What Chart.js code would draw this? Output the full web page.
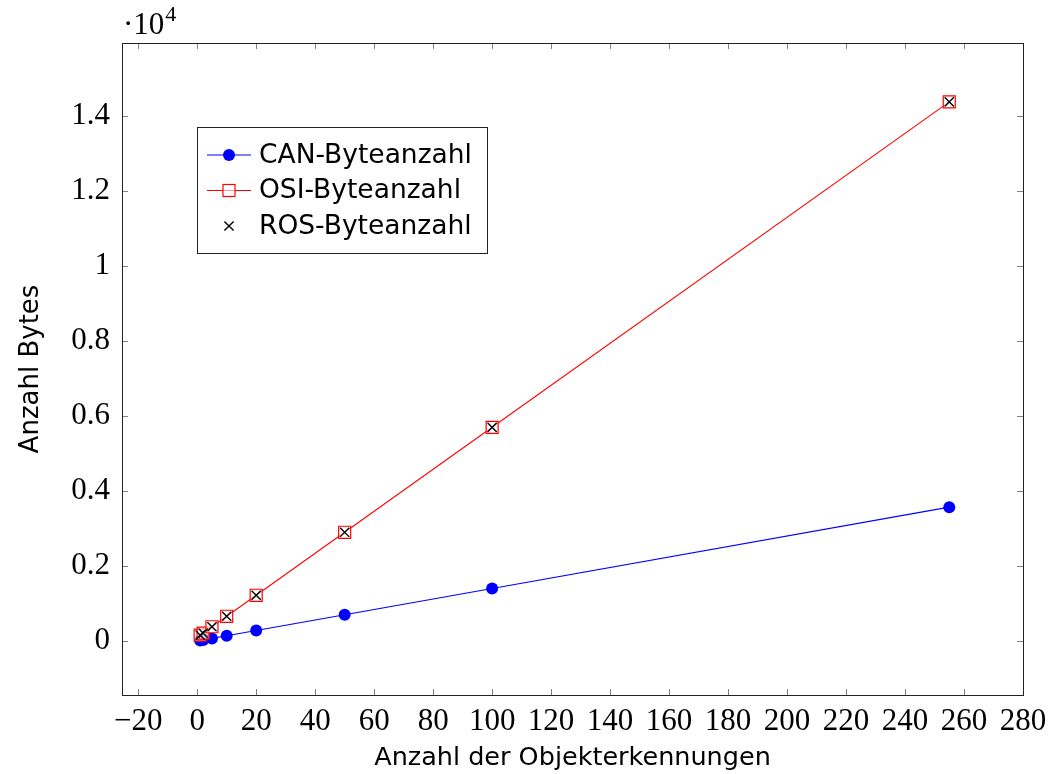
<!DOCTYPE html>
<html>
<head>
<meta charset="utf-8">
<script src="https://cdn.jsdelivr.net/npm/chart.js@4.4.1/dist/chart.umd.min.js"></script>
<style>
  html, body { margin: 0; padding: 0; background: #fff; }
  #wrap { width: 1050px; height: 774px; }
</style>
</head>
<body>
<div id="wrap"><canvas id="myChart" width="1050" height="774"></canvas></div>
<script>
// Werte
const anzahlObjekte = [1, 2, 5, 10, 20, 50, 100, 255];
const canBytes = [14, 28, 70, 140, 280, 700, 1400, 3570];
const osiBytes = [156, 212, 380, 660, 1220, 2900, 5700, 14380];
const rosBytes = [156, 212, 380, 660, 1220, 2900, 5700, 14380];
const xTicks = [-20, 0, 20, 40, 60, 80, 100, 120, 140, 160, 180, 200, 220, 240, 260, 280];
const yTicks = [0, 2000, 4000, 6000, 8000, 10000, 12000, 14000];

const serif = '"Liberation Serif", serif';
const sans = '"DejaVu Sans", sans-serif';

const toPoints = ys => anzahlObjekte.map((x, i) => ({ x: x, y: ys[i] }));

// Tick-Striche nach innen, auf allen vier Seiten (wie pgfplots)
const innerTicks = {
    id: 'innerTicks',
    afterDatasetsDraw(chart) {
        const { ctx, chartArea: a, scales } = chart;
        const len = 6;
        ctx.save();
        ctx.strokeStyle = '#808080';
        ctx.lineWidth = 1;
        ctx.beginPath();
        xTicks.forEach(v => {
            const px = Math.round(scales.x.getPixelForValue(v)) + 0.5;
            ctx.moveTo(px, a.bottom); ctx.lineTo(px, a.bottom - len);
            ctx.moveTo(px, a.top); ctx.lineTo(px, a.top + len);
        });
        yTicks.forEach(v => {
            const py = Math.round(scales.y.getPixelForValue(v)) + 0.5;
            ctx.moveTo(a.left, py); ctx.lineTo(a.left + len, py);
            ctx.moveTo(a.right, py); ctx.lineTo(a.right - len, py);
        });
        ctx.stroke();
        // Rahmen
        ctx.strokeStyle = '#222';
        ctx.strokeRect(Math.round(a.left) + 0.5, Math.round(a.top) + 0.5,
            Math.round(a.right - a.left), Math.round(a.bottom - a.top));
        ctx.restore();
    },
    afterDraw(chart) {
        const { ctx, chartArea: a } = chart;
        ctx.save();
        ctx.fillStyle = '#000';
        ctx.textBaseline = 'alphabetic';
        ctx.font = '31px ' + serif;
        ctx.fillText('\u00b710', a.left + 1, a.top - 9);
        const w = ctx.measureText('\u00b710').width;
        ctx.font = '22px ' + serif;
        ctx.fillText('4', a.left + 1 + w + 1, a.top - 22);
        ctx.restore();
    }
};

// Legende innerhalb der Zeichenfläche
const boxLegend = {
    id: 'boxLegend',
    afterDraw(chart) {
        const { ctx, chartArea: a } = chart;
        const x0 = a.left + 75, y0 = a.top + 84, w = 290, h = 126;
        ctx.save();
        ctx.fillStyle = '#fff';
        ctx.fillRect(x0, y0, w, h);
        ctx.strokeStyle = '#222';
        ctx.lineWidth = 1;
        ctx.strokeRect(x0 + 0.5, y0 + 0.5, w, h);
        ctx.font = '26.5px ' + sans;
        ctx.textBaseline = 'middle';
        chart.data.datasets.forEach((ds, i) => {
            const cy = y0 + 28 + i * 35.5;
            const mx = x0 + 32;
            if (ds.showLine) {
                ctx.strokeStyle = ds.borderColor;
                ctx.lineWidth = 1;
                ctx.beginPath();
                ctx.moveTo(x0 + 10, cy); ctx.lineTo(x0 + 54, cy);
                ctx.stroke();
            }
            ctx.lineWidth = ds.pointBorderWidth;
            ctx.strokeStyle = ds.pointBorderColor;
            ctx.fillStyle = ds.pointBackgroundColor;
            if (ds.pointStyle === 'circle') {
                ctx.beginPath(); ctx.arc(mx, cy, ds.pointRadius, 0, Math.PI * 2); ctx.fill();
            } else if (ds.pointStyle === 'rect') {
                const r = ds.pointRadius * Math.SQRT1_2;
                ctx.fillRect(mx - r, cy - r, 2 * r, 2 * r);
                ctx.strokeRect(mx - r, cy - r, 2 * r, 2 * r);
            } else {
                const r = ds.pointRadius * Math.SQRT1_2;
                ctx.beginPath();
                ctx.moveTo(mx - r, cy - r); ctx.lineTo(mx + r, cy + r);
                ctx.moveTo(mx - r, cy + r); ctx.lineTo(mx + r, cy - r);
                ctx.stroke();
            }
            ctx.fillStyle = '#000';
            ctx.fillText(ds.label, x0 + 62, cy + 1);
        });
        ctx.restore();
    }
};

const ctx = document.getElementById('myChart').getContext('2d');

new Chart(ctx, {
    type: 'scatter',
    data: {
        datasets: [
            {
                label: 'CAN-Byteanzahl',
                data: toPoints(canBytes),
                showLine: true,
                borderColor: '#0000ff',
                borderWidth: 1.1,
                pointStyle: 'circle',
                pointRadius: 6,
                pointBorderWidth: 0,
                pointBorderColor: '#0000ff',
                pointBackgroundColor: '#0000ff',
                order: 3
            },
            {
                label: 'OSI-Byteanzahl',
                data: toPoints(osiBytes),
                showLine: true,
                borderColor: '#ff0000',
                borderWidth: 1.1,
                pointStyle: 'rect',
                pointRadius: 8.5,
                pointBorderWidth: 1.2,
                pointBorderColor: '#ff0000',
                pointBackgroundColor: 'rgba(255,255,255,0.6)',
                order: 2
            },
            {
                label: 'ROS-Byteanzahl',
                data: toPoints(rosBytes),
                showLine: false,
                pointStyle: 'crossRot',
                pointRadius: 6.5,
                pointBorderWidth: 1.4,
                pointBorderColor: '#000',
                pointBackgroundColor: '#000',
                order: 1
            }
        ]
    },
    options: {
        responsive: false,
        animation: false,
        layout: { padding: { top: 43, right: 27, left: 0, bottom: 0 } },
        plugins: {
            legend: { display: false },
            tooltip: { enabled: false }
        },
        scales: {
            x: {
                type: 'linear',
                min: -25.5,
                max: 280,
                afterBuildTicks: s => { s.ticks = xTicks.map(v => ({ value: v })); },
                afterFit: s => { s.height = 79; s.paddingRight = 0; s.paddingLeft = 0; },
                grid: { display: false, drawTicks: false },
                border: { display: false },
                ticks: {
                    padding: 8,
                    color: '#000',
                    font: { family: serif, size: 31 },
                    callback: v => v < 0 ? '\u2212' + Math.abs(v) : String(v)
                },
                title: {
                    display: true,
                    text: 'Anzahl der Objekterkennungen',
                    color: '#000',
                    font: { family: sans, size: 25.5 },
                    padding: { top: 0, bottom: 0 }
                }
            },
            y: {
                min: -1440,
                max: 15950,
                afterBuildTicks: s => { s.ticks = yTicks.map(v => ({ value: v })); },
                afterFit: s => { s.width = 122; },
                grid: { display: false, drawTicks: false },
                border: { display: false },
                ticks: {
                    padding: 12,
                    color: '#000',
                    font: { family: serif, size: 31 },
                    callback: v => String(+(v / 10000).toFixed(1))
                },
                title: {
                    display: true,
                    text: 'Anzahl Bytes',
                    color: '#000',
                    font: { family: sans, size: 26 },
                    padding: { top: 16, bottom: 0 }
                }
            }
        }
    },
    plugins: [innerTicks, boxLegend]
});
</script>
</body>
</html>
